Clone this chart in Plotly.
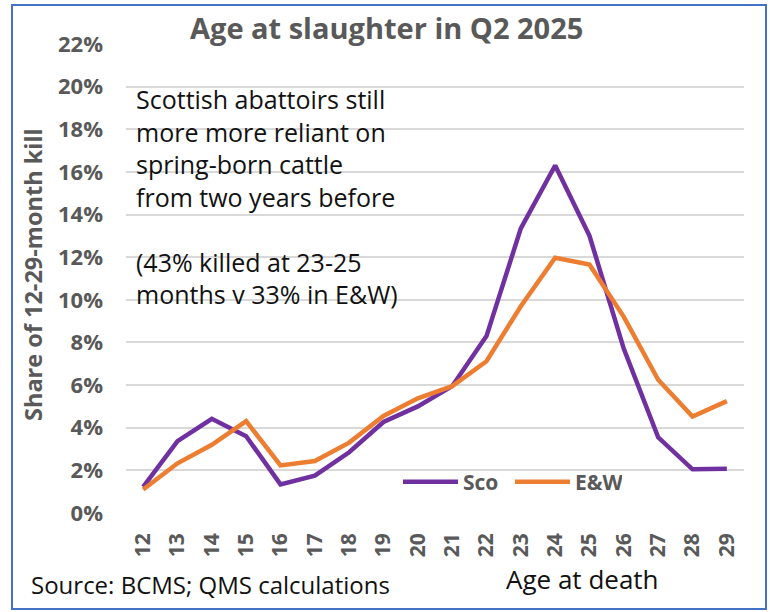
import plotly.graph_objects as go

ages = ["12", "13", "14", "15", "16", "17", "18", "19", "20", "21",
        "22", "23", "24", "25", "26", "27", "28", "29"]
sco = [1.23, 3.37, 4.42, 3.6, 1.34, 1.75, 2.85, 4.27, 5.0, 5.95,
       8.3, 13.35, 16.3, 13.0, 7.7, 3.55, 2.05, 2.08]
ew = [1.1, 2.33, 3.2, 4.31, 2.23, 2.44, 3.3, 4.55, 5.38, 5.95,
      7.12, 9.7, 11.97, 11.65, 9.2, 6.25, 4.52, 5.25]
yticks = [0, 2, 4, 6, 8, 10, 12, 14, 16, 18, 20, 22]
yticklabels = ["<b>%d%%</b>" % v for v in yticks]
xticklabels = ["<b>%s</b>" % a for a in ages]

PURPLE = "#7030A0"
ORANGE = "#ED7D31"
GREY = "#595959"

fig = go.Figure()
fig.add_trace(go.Scatter(x=ages, y=sco, name="<b>Sco</b>", mode="lines",
                         line=dict(color=PURPLE, width=4.5)))
fig.add_trace(go.Scatter(x=ages, y=ew, name="<b>E&W</b>", mode="lines",
                         line=dict(color=ORANGE, width=4.5)))

L, R, T, B = 126, 26, 44, 99
W, H = 770, 612
pw, ph = W - L - R, H - T - B

def px(x):
    return (x - L) / pw

def py(y):
    return (H - B - y) / ph

fig.update_layout(
    width=W, height=H,
    margin=dict(l=L, r=R, t=T, b=B),
    paper_bgcolor="white", plot_bgcolor="white",
    showlegend=True,
    legend=dict(orientation="h", x=px(398), y=py(482), xanchor="left", yanchor="middle",
                font=dict(family="Open Sans", size=21, color=GREY),
                bgcolor="rgba(0,0,0,0)", itemwidth=55, traceorder="normal",
                entrywidth=42, entrywidthmode="pixels"),
    xaxis=dict(type="category", range=[-0.5, 17.5], showgrid=False, zeroline=False,
               showline=False, tickangle=-90, ticks="", ticklabelstandoff=15,
               tickvals=ages, ticktext=xticklabels,
               tickfont=dict(family="Open Sans", size=21, color=GREY)),
    yaxis=dict(range=[0, 22], tickvals=yticks, ticktext=yticklabels, showgrid=True,
               gridcolor="#D9D9D9", gridwidth=1.5, zeroline=False, showline=False,
               ticks="", ticklabelstandoff=22,
               tickfont=dict(family="Open Sans", size=22, color=GREY)),
    shapes=[dict(type="rect", xref="paper", yref="paper",
                 x0=px(12), x1=px(766), y0=py(609), y1=py(5),
                 line=dict(color="#4472C4", width=2), fillcolor="rgba(0,0,0,0)",
                 layer="above")],
    annotations=[
        dict(text="<b>Age at slaughter in Q2 2025</b>", xref="paper", yref="paper",
             x=px(386), y=py(27), xanchor="center", yanchor="middle", showarrow=False,
             font=dict(family="Open Sans", size=29, color=GREY)),
        dict(text="<b>Share of 12-29-month kill</b>", xref="paper", yref="paper",
             x=px(33), y=py(275), xanchor="center", yanchor="middle", showarrow=False,
             textangle=-90, font=dict(family="Open Sans", size=23.5, color=GREY)),
        dict(text="Scottish abattoirs still<br>more more reliant on<br>spring-born cattle<br>"
                  "from two years before<br> <br>(43% killed at 23-25<br>months v 33% in E&W)",
             xref="paper", yref="paper", x=px(134), y=py(80), xanchor="left", yanchor="top",
             align="left", showarrow=False,
             font=dict(family="Open Sans", size=25, color="#111111")),
        dict(text="Source: BCMS; QMS calculations", xref="paper", yref="paper",
             x=px(29), y=py(584), xanchor="left", yanchor="middle", showarrow=False,
             font=dict(family="Open Sans", size=24, color="#111111")),
        dict(text="Age at death", xref="paper", yref="paper",
             x=px(582), y=py(579), xanchor="center", yanchor="middle", showarrow=False,
             font=dict(family="Open Sans", size=26, color="#111111")),
    ],
)

fig.write_html("out.html", config={"displayModeBar": False},
               post_script="document.body.style.margin='0';")
